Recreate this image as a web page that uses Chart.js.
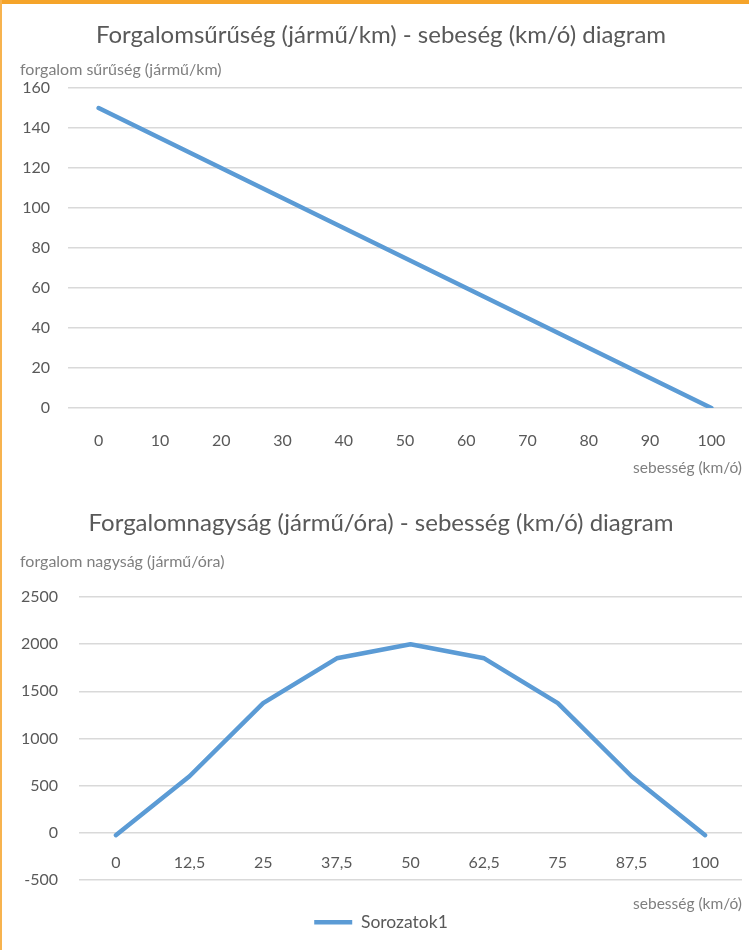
<!DOCTYPE html>
<html>
<head>
<meta charset="utf-8">
<script src="https://cdn.jsdelivr.net/npm/chart.js@4.4.1/dist/chart.umd.min.js"></script>
<style>
  html, body { margin: 0; padding: 0; background: #fff; }
  #wrap { position: relative; width: 749px; height: 950px; overflow: hidden; }
  .frame-top { position: absolute; left: 0; top: 0; width: 749px; height: 4px; background: #f5a42a; z-index: 2; }
  .frame-left { position: absolute; left: 0; top: 0; width: 2px; height: 950px; background: #f7b34f; z-index: 2; }
  #c1box { position: absolute; left: 0; top: 0; width: 749px; height: 480px; }
  #c2box { position: absolute; left: 0; top: 485px; width: 749px; height: 465px; }
</style>
</head>
<body>
<div id="wrap">
  <div class="frame-top"></div>
  <div class="frame-left"></div>
  <div id="c1box"><canvas id="densityChart"></canvas></div>
  <div id="c2box"><canvas id="flowChart"></canvas></div>
</div>
<script>
// adatok
const speedLabels1 = ['0', '10', '20', '30', '40', '50', '60', '70', '80', '90', '100'];
const densityValues = [150, 135, 120, 105, 90, 75, 60, 45, 30, 15, 0];

const speedLabels2 = ['0', '12,5', '25', '37,5', '50', '62,5', '75', '87,5', '100'];
const flowValues = [-25, 600, 1375, 1850, 2000, 1850, 1375, 600, -25];

const densityTicks = { min: 0, max: 160, step: 20 };
const flowTicks = { min: -500, max: 2500, step: 500 };

const FONT = 'Lato, "Open Sans", sans-serif';
const TXT = '#595959';
const AXT = '#7f7f7f';
const GRID = '#d9d9d9';
const LINE = '#5b9bd5';

Chart.defaults.font.family = FONT;
Chart.defaults.color = TXT;

function lineDataset(data) {
    return {
        label: 'Sorozatok1',
        data: data,
        borderColor: LINE,
        backgroundColor: LINE,
        borderWidth: 4.5,
        pointRadius: 0,
        pointHoverRadius: 0,
        borderCapStyle: 'round',
        borderJoinStyle: 'round',
        tension: 0,
        fill: false
    };
}

// ezres elválasztó nélkül
const plainNumber = function(value) { return String(value); };

// felső diagram
new Chart(document.getElementById('densityChart'), {
    type: 'line',
    data: { labels: speedLabels1, datasets: [lineDataset(densityValues)] },
    options: {
        responsive: true,
        maintainAspectRatio: false,
        animation: false,
        layout: { padding: { left: 20, right: 7, top: 0, bottom: 0 } },
        plugins: {
            legend: { display: false },
            tooltip: { enabled: false },
            title: {
                display: true,
                text: 'Forgalomsűrűség (jármű/km) - sebeség (km/ó) diagram',
                color: TXT,
                font: { size: 24, weight: 'normal' },
                padding: { top: 20.6, bottom: 10 }
            },
            subtitle: {
                display: true,
                text: 'forgalom sűrűség (jármű/km)',
                align: 'start',
                color: AXT,
                font: { size: 16 },
                padding: { top: 1, bottom: 8.4 }
            }
        },
        scales: {
            x: {
                offset: true,
                grid: { display: false, drawTicks: false },
                border: { display: false },
                ticks: { color: TXT, font: { size: 16 }, padding: 23, maxRotation: 0, autoSkip: false },
                title: { display: true, text: 'sebesség (km/ó)', align: 'end', color: AXT, font: { size: 15.5 }, padding: { top: 0, bottom: 2.7 } },
                afterFit: function(scale) { scale.height = 72; }
            },
            y: {
                min: densityTicks.min,
                max: densityTicks.max,
                grid: { color: GRID, lineWidth: 1.5, drawTicks: false },
                border: { display: false },
                ticks: { stepSize: densityTicks.step, color: TXT, font: { size: 16 }, padding: 18, callback: plainNumber },
                afterFit: function(scale) { scale.width = 48; }
            }
        }
    }
});

// alsó diagram
new Chart(document.getElementById('flowChart'), {
    type: 'line',
    data: { labels: speedLabels2, datasets: [lineDataset(flowValues)] },
    options: {
        responsive: true,
        maintainAspectRatio: false,
        animation: false,
        layout: { padding: { left: 20, right: 7, top: 0, bottom: 9 } },
        plugins: {
            tooltip: { enabled: false },
            legend: {
                display: true,
                position: 'bottom',
                labels: {
                    color: TXT,
                    font: { size: 17.5 },
                    usePointStyle: true,
                    pointStyle: 'line',
                    pointStyleWidth: 38,
                    padding: 0
                }
            },
            title: {
                display: true,
                text: 'Forgalomnagyság (jármű/óra) - sebesség (km/ó) diagram',
                color: TXT,
                font: { size: 24, weight: 'normal' },
                padding: { top: 23.6, bottom: 10 }
            },
            subtitle: {
                display: true,
                text: 'forgalom nagyság (jármű/óra)',
                align: 'start',
                color: AXT,
                font: { size: 16 },
                padding: { top: 5, bottom: 25.4 }
            }
        },
        scales: {
            x: {
                position: { y: 0 },
                offset: true,
                grid: { display: false, drawTicks: false },
                border: { display: false },
                ticks: { color: TXT, font: { size: 16 }, padding: 20, maxRotation: 0, autoSkip: false }
            },
            x2: {
                type: 'linear',
                axis: 'x',
                position: 'bottom',
                grid: { display: false, drawTicks: false },
                border: { display: false },
                ticks: { display: false },
                title: { display: true, text: 'sebesség (km/ó)', align: 'end', color: AXT, font: { size: 15.5 }, padding: { top: 0, bottom: 0 } },
                afterFit: function(scale) { scale.height = 33.5; }
            },
            y: {
                min: flowTicks.min,
                max: flowTicks.max,
                grid: { color: GRID, lineWidth: 1.5, drawTicks: false },
                border: { display: false },
                ticks: { stepSize: flowTicks.step, color: TXT, font: { size: 16 }, padding: 21, callback: plainNumber },
                afterFit: function(scale) { scale.width = 59; }
            }
        }
    }
});
</script>
</body>
</html>
